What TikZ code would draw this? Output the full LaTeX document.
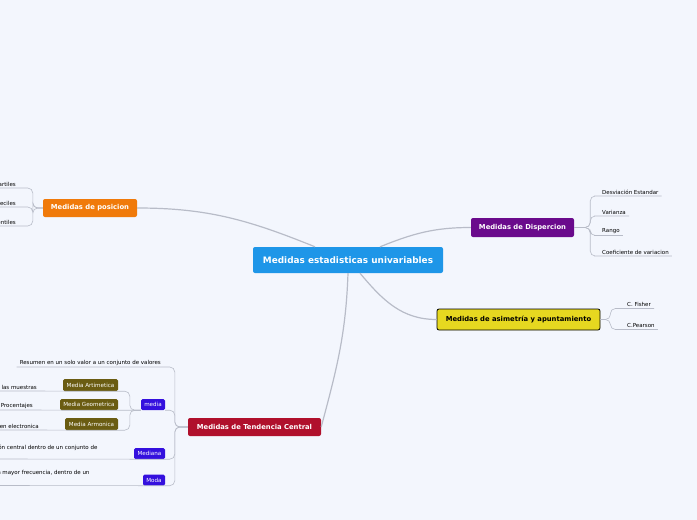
\documentclass[tikz,border=0pt]{standalone}
\usepackage{fontspec}
\setmainfont{DejaVu Sans}
\definecolor{bgpage}{RGB}{243,246,253}
\definecolor{rootblue}{RGB}{30,150,232}
\definecolor{posorange}{RGB}{240,122,10}
\definecolor{disppurple}{RGB}{106,10,140}
\definecolor{asimyellow}{RGB}{230,216,32}
\definecolor{tendred}{RGB}{176,16,44}
\definecolor{subblue}{RGB}{52,16,222}
\definecolor{subolive}{RGB}{106,92,18}
\definecolor{linkgray}{RGB}{184,188,200}
\tikzset{
  root/.style={rectangle, rounded corners=2pt, fill=rootblue, text=white, font=\fontsize{8.9}{10}\selectfont\bfseries, minimum width=190pt, minimum height=26pt, inner sep=1pt},
  topic/.style={rectangle, rounded corners=2pt, text=white, font=\fontsize{6.8}{8}\selectfont\bfseries, inner sep=1pt},
  subtopic/.style={rectangle, rounded corners=1.5pt, text=white, font=\fontsize{5.6}{6.5}\selectfont, minimum height=11pt, inner sep=1pt},
  leafl/.style={font=\fontsize{5.5}{6.5}\selectfont, anchor=south east, inner xsep=3pt, inner ysep=1.5pt},
  leafr/.style={font=\fontsize{5.5}{6.5}\selectfont, anchor=south west, inner xsep=3pt, inner ysep=1.5pt},
  mainlink/.style={draw=linkgray, line width=1.2pt},
  sublink/.style={draw=linkgray, line width=0.6pt, rounded corners=5pt}
}
\begin{document}
\begin{tikzpicture}[x=1pt, y=-1pt]
\useasboundingbox (0,0) rectangle (697,520);
\clip (0,0) rectangle (697,520);
\fill[bgpage] (0,0) rectangle (697,520);

% main topics
\node[root] (root) at (348,260) {Medidas estadisticas univariables};
\node[topic, fill=posorange, minimum width=94pt, minimum height=18pt] (pos) at (90,208) {Medidas de posicion};
\node[topic, fill=disppurple, minimum width=103pt, minimum height=19pt] (disp) at (522.5,227.5) {Medidas de Dispercion};
\node[topic, fill=asimyellow, draw=black, line width=0.8pt, text=black, minimum width=163pt, minimum height=21pt] (asim) at (518.5,319.5) {Medidas de asimetría y apuntamiento};
\node[topic, fill=tendred, minimum width=133pt, minimum height=18pt] (tend) at (254.5,427) {Medidas de Tendencia Central};

\draw[mainlink] (pos.east) to[out=0, in=158] ([xshift=-33pt]root.north);
\draw[mainlink] ([xshift=32pt]root.north) to[out=22, in=180] (disp.west);
\draw[mainlink] ([xshift=12pt]root.south) to[out=-50, in=180] (asim.west);
\draw[mainlink] (root.south) to[out=-92, in=75] (tend.east);

% posicion
\node[leafl] (p1) at (19,188) {Cuartiles};
\node[leafl] (p2) at (19,207) {Deciles};
\node[leafl] (p3) at (19,226) {Percentiles};
\foreach \n in {p1,p2,p3}
  \draw[sublink] (pos.west) -- ++(-10,0) |- (\n.south east) -- (\n.south west);

% dispercion
\node[leafr] (d1) at (599,196) {Desviación Estandar};
\node[leafr] (d2) at (599,216) {Varianza};
\node[leafr] (d3) at (599,235.5) {Rango};
\node[leafr] (d4) at (599,256) {Coeficiente de variacion};
\foreach \n in {d1,d2,d3,d4}
  \draw[sublink] (disp.east) -- ++(16,0) |- (\n.south west) -- (\n.south east);

% asimetria
\node[leafr] (f1) at (624,308.5) {C. Fisher};
\node[leafr] (f2) at (624,329.5) {C.Pearson};
\foreach \n in {f1,f2}
  \draw[sublink] (asim.east) -- ++(10,0) |- (\n.south west) -- (\n.south east);

% tendencia central
\node[leafl] (res) at (164,367) {Resumen en un solo valor a un conjunto de valores};
\node[subtopic, fill=subblue, minimum width=24pt] (media) at (153,404.5) {media};
\node[subtopic, fill=subblue, minimum width=31pt] (mediana) at (149.5,453.5) {Mediana};
\node[subtopic, fill=subblue, minimum width=22pt] (moda) at (154,480) {Moda};
\draw[sublink] (tend.west) -- ++(-13,0) |- (res.south east) -- (res.south west);
\foreach \n in {media,mediana,moda}
  \draw[sublink] (tend.west) -- ++(-13,0) |- (\n.south east);

% media
\node[subtopic, fill=subolive, minimum width=55pt, minimum height=12pt] (arit) at (90.5,385) {Media Artimetica};
\node[subtopic, fill=subolive, minimum width=58pt] (geo) at (89,404.5) {Media Geometrica};
\node[subtopic, fill=subolive, minimum width=53pt, minimum height=12pt] (armo) at (91.5,424) {Media Armonica};
\node[leafl] (a1) at (40,391) {las muestras};
\node[leafl] (g1) at (36,410) {Procentajes};
\node[leafl] (h1) at (42,430) {en electronica};
\draw[sublink] (media.south west) -- ++(-11,0) |- (arit.south east) -- (arit.south west) -- (a1.south east) -- (a1.south west);
\draw[sublink] (media.south west) -- (geo.south east) -- (geo.south west) -- (g1.south east) -- (g1.south west);
\draw[sublink] (media.south west) -- ++(-11,0) |- (armo.south east) -- (armo.south west) -- (h1.south east) -- (h1.south west);

% mediana, moda
\node[font=\fontsize{5.5}{6.5}\selectfont, anchor=east] (md1) at (101,448) {posición central dentro de un conjunto de};
\node[font=\fontsize{5.5}{6.5}\selectfont, anchor=east] (mo1) at (93,473) {con mayor frecuencia, dentro de un};
\coordinate (md1e) at (-2,459);
\coordinate (mo1e) at (-2,485.5);
\draw[sublink] (mediana.south east) -- (mediana.south west) -- (md1e);
\draw[sublink] (moda.south east) -- (moda.south west) -- (mo1e);
\end{tikzpicture}
\end{document}
